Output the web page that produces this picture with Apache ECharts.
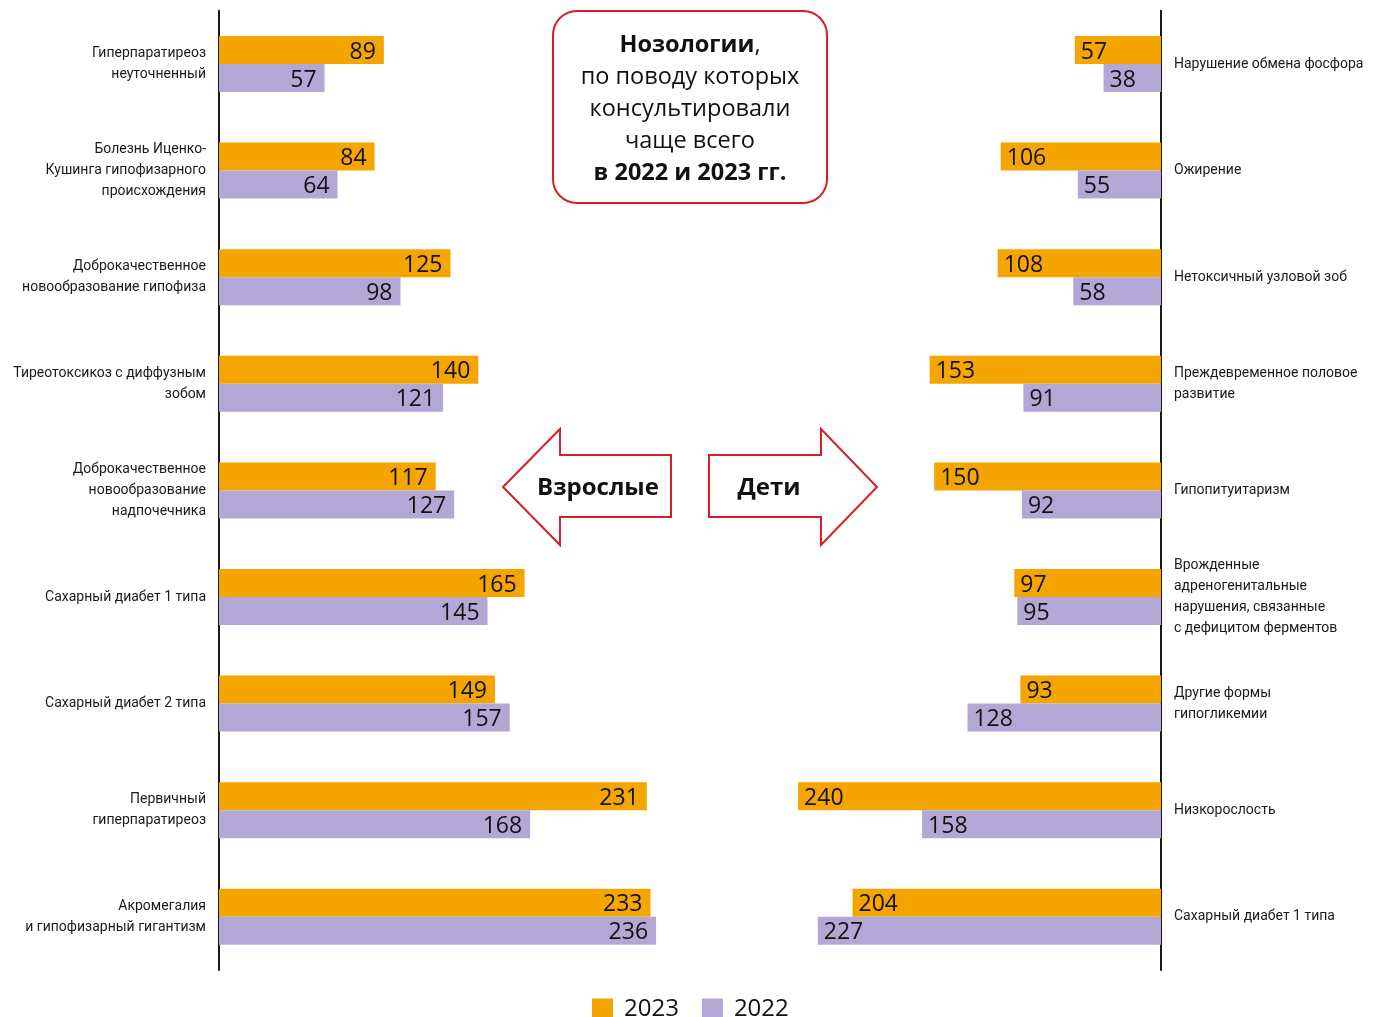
<!DOCTYPE html>
<html>
<head>
<meta charset="utf-8">
<script src="https://cdn.jsdelivr.net/npm/echarts@6/dist/echarts.min.js"></script>
<style>
  html, body { margin: 0; padding: 0; background: #fff; }
  #chart { width: 1373px; height: 1017px; }
</style>
</head>
<body>
<div id="chart"></div>
<script>
// Взрослые (слева)
const adultCategories = [
  'Гиперпаратиреоз\nнеуточненный',
  'Болезнь Иценко-\nКушинга гипофизарного\nпроисхождения',
  'Доброкачественное\nновообразование гипофиза',
  'Тиреотоксикоз с диффузным\nзобом',
  'Доброкачественное\nновообразование\nнадпочечника',
  'Сахарный диабет 1 типа',
  'Сахарный диабет 2 типа',
  'Первичный\nгиперпаратиреоз',
  'Акромегалия\nи гипофизарный гигантизм'
];
const adult2023 = [89, 84, 125, 140, 117, 165, 149, 231, 233];
const adult2022 = [57, 64, 98, 121, 127, 145, 157, 168, 236];

// Дети (справа)
const childCategories = [
  'Нарушение обмена фосфора',
  'Ожирение',
  'Нетоксичный узловой зоб',
  'Преждевременное половое\nразвитие',
  'Гипопитуитаризм',
  'Врожденные\nадреногенитальные\nнарушения, связанные\nс дефицитом ферментов',
  'Другие формы\nгипогликемии',
  'Низкорослость',
  'Сахарный диабет 1 типа'
];
const child2023 = [57, 106, 108, 153, 150, 97, 93, 240, 204];
const child2022 = [38, 55, 58, 91, 92, 95, 128, 158, 227];

const seriesNames = ['2023', '2022'];

const ORANGE = '#F5A500';
const PURPLE = '#B3A8D5';
const RED = '#D42027';
const NARROW = 'Roboto, "Liberation Sans", sans-serif';
const MAIN = '"Open Sans", "Noto Sans", sans-serif';

const chart = echarts.init(document.getElementById('chart'));

const valueLabel = (pos, dist) => ({
  show: true,
  position: pos,
  distance: dist,
  offset: [0, 2],
  fontFamily: MAIN,
  fontSize: 23,
  color: '#111'
});

const catAxisCommon = {
  type: 'category',
  inverse: true,
  axisTick: { show: false },
  axisLine: { show: true, lineStyle: { color: '#1a1a1a', width: 2 } },
  axisLabel: {
    fontFamily: NARROW,
    fontSize: 14,
    lineHeight: 21,
    color: '#1a1a1a',
    margin: 13
  }
};

const option = {
  animation: false,
  backgroundColor: '#fff',
  legend: {
    top: 992,
    left: 587,
    itemWidth: 21,
    itemHeight: 21,
    itemGap: 23,
    icon: 'rect',
    data: seriesNames,
    textStyle: { fontFamily: MAIN, fontSize: 24, color: '#111', padding: [0, 0, 0, 6] }
  },
  grid: [
    { left: 219, width: 463, top: 10.7, height: 959.4, containLabel: false, outerBoundsMode: 'none' },
    { right: 212, width: 453.6, top: 10.7, height: 959.4, containLabel: false, outerBoundsMode: 'none' }
  ],
  xAxis: [
    { gridIndex: 0, type: 'value', min: 0, max: 250, show: false },
    { gridIndex: 1, type: 'value', min: 0, max: 300, inverse: true, show: false }
  ],
  yAxis: [
    Object.assign({}, catAxisCommon, {
      gridIndex: 0,
      position: 'left',
      data: adultCategories,
      axisLabel: Object.assign({}, catAxisCommon.axisLabel, { align: 'right' })
    }),
    Object.assign({}, catAxisCommon, {
      gridIndex: 1,
      position: 'right',
      data: childCategories,
      axisLabel: Object.assign({}, catAxisCommon.axisLabel, { align: 'left' })
    })
  ],
  series: [
    {
      name: seriesNames[0], type: 'bar', xAxisIndex: 0, yAxisIndex: 0,
      data: adult2023, barWidth: 28, barGap: '0%',
      itemStyle: { color: ORANGE }, label: valueLabel('insideRight', 8)
    },
    {
      name: seriesNames[1], type: 'bar', xAxisIndex: 0, yAxisIndex: 0,
      data: adult2022, barWidth: 28, barGap: '0%',
      itemStyle: { color: PURPLE }, label: valueLabel('insideRight', 8)
    },
    {
      name: seriesNames[0], type: 'bar', xAxisIndex: 1, yAxisIndex: 1,
      data: child2023, barWidth: 28, barGap: '0%',
      itemStyle: { color: ORANGE }, label: valueLabel('insideLeft', 6)
    },
    {
      name: seriesNames[1], type: 'bar', xAxisIndex: 1, yAxisIndex: 1,
      data: child2022, barWidth: 28, barGap: '0%',
      itemStyle: { color: PURPLE }, label: valueLabel('insideLeft', 6)
    }
  ],
  graphic: [
    // Заголовочная рамка
    {
      type: 'rect',
      shape: { x: 553, y: 11, width: 274, height: 192, r: 24 },
      style: { fill: '#fff', stroke: RED, lineWidth: 2 }
    },
    {
      type: 'text',
      x: 690, y: 109,
      style: {
        text: '{b|Нозологии},\nпо поводу которых\nконсультировали\nчаще всего\n{b|в 2022 и 2023 гг.}',
        align: 'center',
        verticalAlign: 'middle',
        fontFamily: MAIN,
        fontSize: 23.5,
        lineHeight: 32,
        fill: '#111',
        rich: {
          b: { fontFamily: MAIN, fontSize: 23.5, fontWeight: 'bold', lineHeight: 32, fill: '#111' }
        }
      }
    },
    // Стрелка «Взрослые»
    {
      type: 'polygon',
      shape: { points: [[503, 487], [560, 429], [560, 455], [671, 455], [671, 517], [560, 517], [560, 545]] },
      style: { fill: '#fff', stroke: RED, lineWidth: 2 }
    },
    {
      type: 'text', x: 598, y: 488,
      style: {
        text: 'Взрослые', align: 'center', verticalAlign: 'middle',
        fontFamily: MAIN, fontSize: 24, fontWeight: 'bold', fill: '#111'
      }
    },
    // Стрелка «Дети»
    {
      type: 'polygon',
      shape: { points: [[709, 455], [821, 455], [821, 429], [877, 487], [821, 545], [821, 517], [709, 517]] },
      style: { fill: '#fff', stroke: RED, lineWidth: 2 }
    },
    {
      type: 'text', x: 769, y: 488,
      style: {
        text: 'Дети', align: 'center', verticalAlign: 'middle',
        fontFamily: MAIN, fontSize: 24, fontWeight: 'bold', fill: '#111'
      }
    }
  ]
};

chart.setOption(option);
</script>
</body>
</html>
